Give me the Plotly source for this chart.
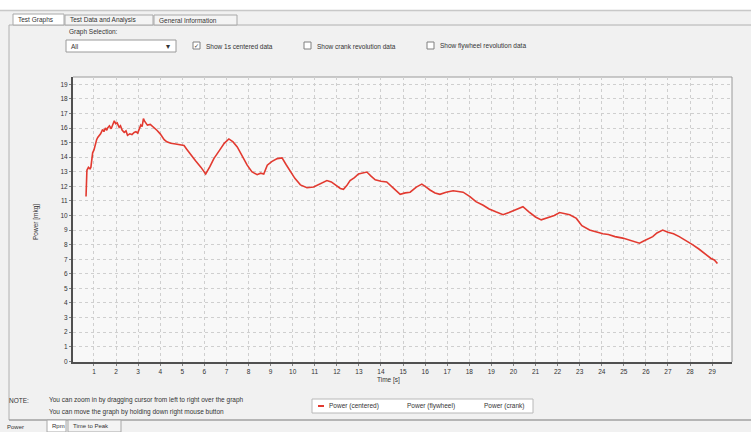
import plotly.graph_objects as go

# ---- data ----
time_s = [0.64, 0.66, 0.68, 0.75, 0.82, 0.86, 0.9, 0.94, 1.0, 1.06, 1.12, 1.17, 1.24, 1.3, 1.39, 1.45,
          1.52, 1.58, 1.62, 1.7, 1.78, 1.85, 1.92, 1.98, 2.05, 2.14, 2.2, 2.28, 2.37, 2.45, 2.52, 2.62,
          2.72, 2.82, 2.9, 2.98, 3.05, 3.12, 3.18, 3.24, 3.3, 3.42, 3.55, 3.72, 3.85, 4.0, 4.18, 4.3,
          4.48, 4.7, 4.9, 5.08, 5.2, 5.38, 5.6, 5.85, 6.06, 6.25, 6.43, 6.7, 6.9, 7.11, 7.3, 7.49,
          7.7, 7.94, 8.15, 8.39, 8.55, 8.69, 8.85, 9.05, 9.3, 9.52, 9.7, 9.9, 10.1, 10.35, 10.65,
          10.95, 11.2, 11.4, 11.55, 11.75, 11.95, 12.16, 12.3, 12.45, 12.6, 12.8, 12.98, 13.2, 13.36,
          13.55, 13.74, 14.0, 14.26, 14.55, 14.87, 15.1, 15.32, 15.6, 15.85, 16.05, 16.22, 16.45,
          16.67, 16.95, 17.27, 17.5, 17.72, 18.03, 18.3, 18.63, 18.9, 19.2, 19.53, 19.8, 20.1, 20.43,
          20.7, 21.0, 21.26, 21.45, 21.64, 21.85, 22.09, 22.3, 22.55, 22.85, 23.1, 23.45, 23.75,
          24.05, 24.3, 24.6, 24.95, 25.2, 25.45, 25.71, 25.9, 26.1, 26.31, 26.5, 26.76, 27.0, 27.25,
          27.51, 27.8, 28.11, 28.4, 28.72, 28.95, 29.1, 29.24]
power_centered = [11.3, 12.0, 13.1, 13.3, 13.2, 13.3, 13.8, 14.3, 14.5, 14.9, 15.2, 15.35, 15.5, 15.6,
                  15.9, 15.75, 16.0, 15.85, 16.0, 16.15, 15.95, 16.25, 16.5, 16.3, 16.35, 16.05, 16.15,
                  15.85, 15.7, 15.8, 15.5, 15.6, 15.55, 15.7, 15.75, 15.65, 15.95, 16.2, 16.1, 16.65,
                  16.45, 16.2, 16.25, 16.05, 15.85, 15.6, 15.2, 15.05, 14.95, 14.9, 14.85, 14.8, 14.55,
                  14.15, 13.75, 13.3, 12.85, 13.35, 13.9, 14.5, 14.95, 15.25, 15.05, 14.7, 14.1, 13.45,
                  13.0, 12.8, 12.9, 12.85, 13.45, 13.7, 13.9, 13.95, 13.5, 13.0, 12.55, 12.1, 11.9,
                  11.95, 12.15, 12.3, 12.4, 12.3, 12.05, 11.85, 11.8, 12.05, 12.4, 12.6, 12.85, 12.95,
                  12.98, 12.7, 12.45, 12.35, 12.3, 11.9, 11.45, 11.55, 11.6, 11.95, 12.15, 11.95, 11.75,
                  11.55, 11.45, 11.6, 11.7, 11.65, 11.6, 11.3, 10.95, 10.7, 10.45, 10.25, 10.05, 10.2,
                  10.4, 10.6, 10.25, 9.9, 9.7, 9.8, 9.85, 10.0, 10.2, 10.15, 10.05, 9.8, 9.3, 9.0, 8.85,
                  8.75, 8.7, 8.55, 8.45, 8.35, 8.25, 8.1, 8.25, 8.4, 8.55, 8.8, 9.0, 8.85, 8.75, 8.55,
                  8.3, 8.0, 7.7, 7.35, 7.05, 6.95, 6.7]
x_ticks = list(range(1, 30))
y_ticks = list(range(0, 20))

W, H = 751, 432
L, R, T, B = 73, 732, 77, 362  # plot area in pixels


def px(x):
    return (x - L) / (R - L)


def py(y):
    return (B - y) / (B - T)


FONT = "Liberation Sans"
TXT = "#333333"

fig = go.Figure()
fig.add_trace(go.Scatter(x=time_s, y=power_centered, mode="lines",
                         line=dict(color="#e23a30", width=1.6), name="Power (centered)",
                         showlegend=False))

shapes = []
annos = []


def rect(x0, y0, x1, y1, fill=None, line="#a0a0a0", lw=1, layer="below"):
    shapes.append(dict(type="rect", xref="paper", yref="paper", x0=px(x0), x1=px(x1),
                       y0=py(y1), y1=py(y0), fillcolor=fill if fill else "rgba(0,0,0,0)",
                       line=dict(color=line, width=lw), layer=layer))


def hline(x0, x1, y, color="#a0a0a0", lw=1):
    shapes.append(dict(type="line", xref="paper", yref="paper", x0=px(x0), x1=px(x1),
                       y0=py(y), y1=py(y), line=dict(color=color, width=lw), layer="below"))


def vline(x, y0, y1, color="#a0a0a0", lw=1):
    shapes.append(dict(type="line", xref="paper", yref="paper", x0=px(x), x1=px(x),
                       y0=py(y0), y1=py(y1), line=dict(color=color, width=lw), layer="below"))


def text(x, y, s, size=7, anchor="left", color=TXT, angle=0):
    annos.append(dict(xref="paper", yref="paper", x=px(x), y=py(y), text=s, showarrow=False,
                      xanchor=anchor, yanchor="middle", textangle=angle,
                      font=dict(family=FONT, size=size, color=color)))


# top white strip
rect(-5, -5, 760, 10, fill="#ffffff", line="rgba(0,0,0,0)")
hline(0, 751, 10.5, color="#c8c8c8", lw=1.5)
# panel border
vline(9, 25, 420, color="#b0b0b0")
hline(9, 751, 25, color="#b0b0b0")
# tabs
rect(13, 14, 64, 25, fill="#ffffff", line="#a8a8a8")
text(16, 19.5, "Test Graphs", size=6.5)
rect(65, 15, 153, 25, fill="#f4f4f4", line="#a8a8a8")
text(68, 20, "Test Data and Analysis", size=6.5)
rect(154, 15, 237, 25, fill="#f4f4f4", line="#a8a8a8")
text(157, 20, "General Information", size=6.5)
# controls
text(67, 32, "Graph Selection:", size=6.5)
rect(66, 40, 176, 52, fill="#ffffff", line="#9a9a9a")
text(69, 46, "All", size=6.5)
text(168, 46, "▾", size=8, anchor="center")
rect(193, 42, 200, 49, fill="#ffffff", line="#808080")
text(196.5, 45.5, "✓", size=6, anchor="center")
text(204, 46, "Show 1s centered data", size=6.5)
rect(304, 42, 311, 49, fill="#ffffff", line="#808080")
text(315, 46, "Show crank revolution data", size=6.5)
rect(427, 42, 434, 49, fill="#ffffff", line="#808080")
text(438, 46, "Show flywheel revolution data", size=6.5)

# plot frame: top & right thin
hline(L, R, T, color="#9a9a9a")
vline(R, T, B, color="#9a9a9a")

# axis titles
text(388, 380, "Time [s]", size=6.5, anchor="center")
text(36, 222, "Power [mkg]", size=6.5, anchor="center", angle=-90)

# note text
text(7, 400, "NOTE:", size=6.5)
text(47, 400, "You can zoom in by dragging cursor from left to right over the graph", size=6.5)
text(47, 412, "You can move the graph by holding down right mouse button", size=6.5)

# legend box
rect(312, 399, 533, 413, fill="#ffffff", line="#b8b8b8")
shapes.append(dict(type="line", xref="paper", yref="paper", x0=px(318), x1=px(324),
                   y0=py(406), y1=py(406), line=dict(color="#e23a30", width=2)))
text(327, 406, "Power (centered)", size=6.5)
text(405, 406, "Power (flywheel)", size=6.5)
text(482, 406, "Power (crank)", size=6.5)

# bottom tabs
hline(9, 751, 420, color="#a0a0a0", lw=1.5)
text(5, 426.5, "Power", size=6)
rect(47, 420, 66, 432, fill="#ffffff", line="#a8a8a8")
text(50, 426, "Rpm", size=6)
rect(68, 420, 121, 432, fill="#f4f4f4", line="#a8a8a8")
text(71, 426, "Time to Peak", size=6)

fig.update_layout(
    width=W, height=H,
    margin=dict(l=L, r=W - R, t=T, b=H - B, pad=0),
    paper_bgcolor="#f1f1f1",
    plot_bgcolor="#f8f8f8",
    showlegend=False,
    shapes=shapes,
    annotations=annos,
    font=dict(family=FONT, size=7, color=TXT),
)
fig.update_xaxes(range=[0.05, 29.9], tickvals=x_ticks, ticktext=[str(v) for v in x_ticks],
                 showgrid=True, gridcolor="#cfcfcf", griddash="dot", gridwidth=1,
                 showline=True, linecolor="#505050", linewidth=2, zeroline=False,
                 ticks="outside", ticklen=2, tickcolor="#808080",
                 tickfont=dict(family=FONT, size=6.5, color=TXT))
fig.update_yaxes(range=[-0.05, 19.5], tickvals=y_ticks, ticktext=[str(v) for v in y_ticks],
                 showgrid=True, gridcolor="#cfcfcf", griddash="dot", gridwidth=1,
                 showline=True, linecolor="#505050", linewidth=2, zeroline=False,
                 ticks="outside", ticklen=2, tickcolor="#808080",
                 tickfont=dict(family=FONT, size=6.5, color=TXT))

fig.write_html("out.html", config={"displayModeBar": False},
               post_script="document.body.style.margin='0px';")
